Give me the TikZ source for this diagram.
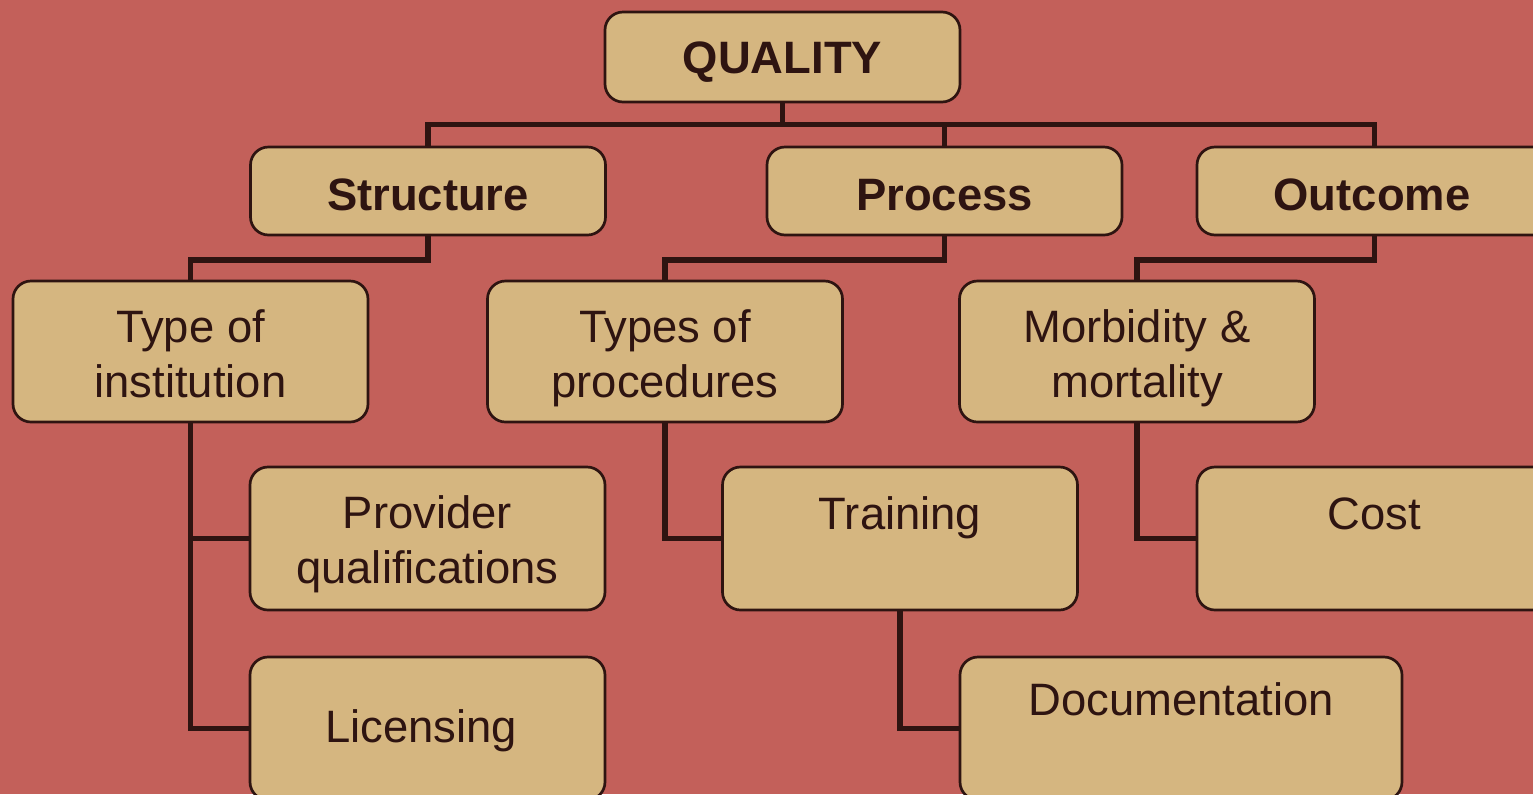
\documentclass[tikz,border=0pt]{standalone}
\usepackage{fontspec}
\setmainfont{Liberation Sans}
\definecolor{bgc}{HTML}{C3605A}
\definecolor{boxfill}{HTML}{D5B680}
\definecolor{ln}{HTML}{2E1411}
\newcommand\twolines[2]{\begin{tabular}[t]{@{}c@{}}#1\\#2\end{tabular}}
\begin{document}
\begin{tikzpicture}[x=0.5pt,y=-0.5pt,
  box/.style={draw=ln, fill=boxfill, line width=1.35pt, rounded corners=9pt, inner sep=0pt, minimum width=177.5pt},
  conn/.style={draw=ln, line width=2.8pt},
  txt/.style={anchor=base, text=ln, font=\fontsize{22.7}{27.7}\selectfont, inner sep=0pt},
  boldtxt/.style={txt, font=\fontsize{22.7}{27.7}\selectfont\bfseries}]
\useasboundingbox (0,0) rectangle (1533,794);
\fill[bgc] (0,0) rectangle (1533,794);
\clip (0,0) rectangle (1533,794);

% boxes
\node[box, minimum height=45pt] (q) at (782.5,57) {};
\node[box, minimum height=44pt] (st) at (428,191) {};
\node[box, minimum height=44pt] (pr) at (944.5,191) {};
\node[box, minimum height=44pt] (ou) at (1374.5,191) {};
\node[box, minimum height=70.5pt] (ti) at (190.5,351.5) {};
\node[box, minimum height=70.5pt] (tp) at (665,351.5) {};
\node[box, minimum height=70.5pt] (mm) at (1137,351.5) {};
\node[box, minimum height=71.5pt] (pq) at (427.5,538.5) {};
\node[box, minimum height=71.5pt] (tr) at (900,538.5) {};
\node[box, minimum height=71.5pt] (co) at (1374.5,538.5) {};
\node[box, minimum height=71.5pt] (li) at (427.5,728.5) {};
\node[box, minimum height=71.5pt, minimum width=221pt] (do) at (1181,728.5) {};

% connectors
\draw[conn] (q.south) -- ++(0,21) -| (st.north);
\draw[conn] (q.south) -- ++(0,21) -| (pr.north);
\draw[conn] (q.south) -- ++(0,21) -| (ou.north);
\draw[conn] (st.south) -- ++(0,23.5) -| (ti.north);
\draw[conn] (pr.south) -- ++(0,23.5) -| (tp.north);
\draw[conn] (ou.south) -- ++(0,23.5) -| (mm.north);
\draw[conn] (ti.south) |- (pq.west);
\draw[conn] (ti.south) |- (li.west);
\draw[conn] (tp.south) |- (tr.west);
\draw[conn] (mm.south) |- (co.west);
\draw[conn] (tr.south) |- (do.west);

% texts
\node[boldtxt] (tq) at (782.5,73) {QUALITY};
\node[boldtxt] (tst) at (428,210) {Structure};
\node[boldtxt] (tpr) at (944.5,210) {Process};
\node[boldtxt] (tou) at (1372,210) {Outcome};
\node[txt] (tti) at (190.5,342) {\twolines{Type of}{institution}};
\node[txt] (ttp) at (665,342) {\twolines{Types of}{procedures}};
\node[txt] (tmm) at (1137,342) {\twolines{Morbidity \&}{mortality}};
\node[txt] (tpq) at (427.5,528) {\twolines{Provider}{qualifications}};
\node[txt] (ttr) at (900,529) {Training};
\node[txt] (tco) at (1374,529) {Cost};
\node[txt] (tli) at (421,742) {Licensing};
\node[txt] (tdo) at (1181,715) {Documentation};
\end{tikzpicture}
\end{document}
